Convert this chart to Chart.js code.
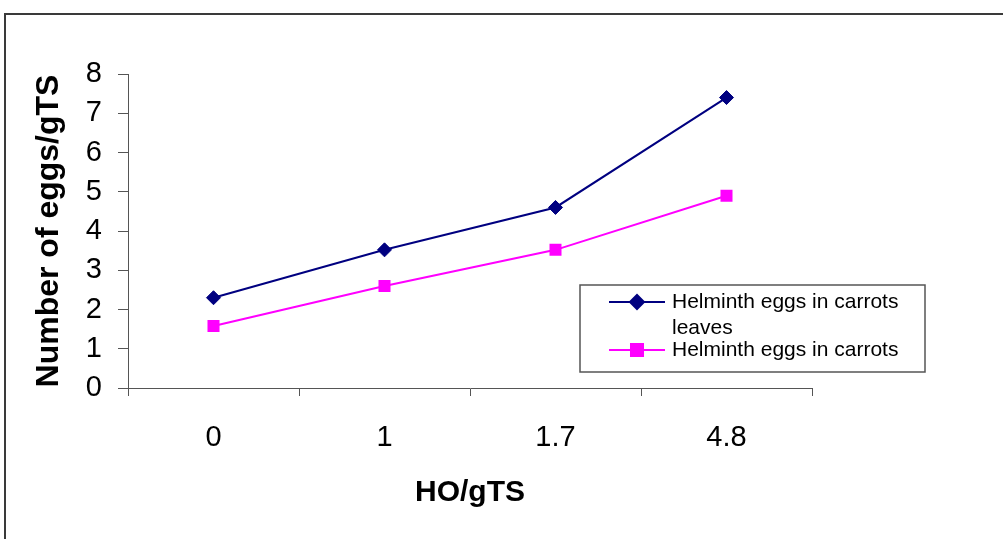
<!DOCTYPE html>
<html>
<head>
<meta charset="utf-8">
<title>Helminth eggs vs HO/gTS</title>
<script src="https://cdn.jsdelivr.net/npm/chart.js@4/dist/chart.umd.min.js"></script>
<style>
  html, body { margin: 0; padding: 0; background: #ffffff; }
  #wrap { width: 1003px; height: 539px; }
</style>
</head>
<body>
<div id="wrap"><canvas id="chart" width="1003" height="539"></canvas></div>
<script>
// HO/gTS dose levels (category axis)
const doseLabels = ['0', '1', '1.7', '4.8'];
// Helminth eggs per gTS
const eggsCarrotLeaves = [2.3, 3.52, 4.6, 7.4];
const eggsCarrots = [1.58, 2.6, 3.52, 4.9];
// Series names
const seriesNames = ['Helminth eggs in carrots leaves', 'Helminth eggs in carrots'];
// Y axis range
const yMin = 0, yMax = 8, yStep = 1;

const FONT = '"Liberation Sans", Arial, Helvetica, sans-serif';

// Thin frame around the whole figure (top and left edges)
const framePlugin = {
  id: 'frame',
  beforeDraw(chart) {
    const ctx = chart.ctx;
    ctx.save();
    ctx.fillStyle = '#ffffff';
    ctx.fillRect(0, 0, chart.width, chart.height);
    ctx.strokeStyle = '#3a3a3a';
    ctx.lineWidth = 2;
    ctx.beginPath();
    ctx.moveTo(5, chart.height);
    ctx.lineTo(5, 14);
    ctx.lineTo(chart.width, 14);
    ctx.stroke();
    ctx.restore();
  }
};

// Boxed legend with wrapped series names
const boxLegendPlugin = {
  id: 'boxLegend',
  afterDraw(chart) {
    const ctx = chart.ctx;
    const box = { x: 580, y: 285, w: 345, h: 87 };
    const lineX0 = 609, lineX1 = 665, textX = 672, maxText = 240, lineH = 24;
    ctx.save();
    ctx.fillStyle = '#ffffff';
    ctx.fillRect(box.x, box.y, box.w, box.h);
    ctx.strokeStyle = '#555555';
    ctx.lineWidth = 1.5;
    ctx.strokeRect(box.x, box.y, box.w, box.h);
    ctx.font = '21px ' + FONT;
    ctx.textBaseline = 'middle';
    ctx.textAlign = 'left';
    let y = box.y + 17;
    chart.data.datasets.forEach((ds) => {
      // line sample
      ctx.strokeStyle = ds.borderColor;
      ctx.lineWidth = ds.borderWidth;
      ctx.beginPath();
      ctx.moveTo(lineX0, y);
      ctx.lineTo(lineX1, y);
      ctx.stroke();
      ctx.fillStyle = ds.pointBackgroundColor;
      ctx.strokeStyle = ds.pointBorderColor;
      Chart.helpers.drawPoint(ctx, {
        pointStyle: ds.pointStyle,
        radius: ds.pointRadius,
        borderWidth: 1,
        rotation: 0
      }, (lineX0 + lineX1) / 2, y);
      // wrapped label
      const words = ds.label.split(' ');
      const lines = [];
      let cur = '';
      words.forEach(w => {
        const test = cur ? cur + ' ' + w : w;
        if (ctx.measureText(test).width > maxText && cur) { lines.push(cur); cur = w; }
        else cur = test;
      });
      if (cur) lines.push(cur);
      ctx.fillStyle = '#000000';
      lines.forEach((ln, k) => ctx.fillText(ln, textX, y + k * (lineH + 2)));
      y += lines.length * lineH;
    });
    ctx.restore();
  }
};

new Chart(document.getElementById('chart'), {
  type: 'line',
  data: {
    labels: doseLabels,
    datasets: [
      {
        label: seriesNames[0],
        data: eggsCarrotLeaves,
        borderColor: '#000080',
        backgroundColor: '#000080',
        borderWidth: 2,
        pointStyle: 'rectRot',
        pointRadius: 7,
        pointHoverRadius: 7,
        pointBackgroundColor: '#000080',
        pointBorderColor: '#000080',
        pointBorderWidth: 1,
        tension: 0,
        fill: false
      },
      {
        label: seriesNames[1],
        data: eggsCarrots,
        borderColor: '#ff00ff',
        backgroundColor: '#ff00ff',
        borderWidth: 2,
        pointStyle: 'rect',
        pointRadius: 8.5,
        pointHoverRadius: 8.5,
        pointBackgroundColor: '#ff00ff',
        pointBorderColor: '#ff00ff',
        pointBorderWidth: 0,
        tension: 0,
        fill: false
      }
    ]
  },
  options: {
    responsive: false,
    animation: false,
    events: [],
    layout: { padding: { left: 0, top: 74, right: 191, bottom: 0 } },
    plugins: {
      legend: { display: false },
      tooltip: { enabled: false },
      title: { display: false }
    },
    scales: {
      x: {
        type: 'category',
        offset: true,
        grid: {
          offset: true,
          drawOnChartArea: false,
          drawTicks: true,
          tickLength: 8,
          color: '#555555'
        },
        border: { display: true, color: '#555555', width: 1 },
        ticks: {
          color: '#000000',
          padding: 25,
          maxRotation: 0,
          font: { family: FONT, size: 29, lineHeight: 1.2 }
        },
        title: {
          display: true,
          text: 'HO/gTS',
          color: '#000000',
          font: { family: FONT, size: 30, weight: 'bold', lineHeight: 1.2 },
          padding: { top: 0, bottom: 28 }
        },
        afterFit(scale) { scale.height = 151; }
      },
      y: {
        min: yMin,
        max: yMax,
        grid: {
          drawOnChartArea: false,
          drawTicks: true,
          tickLength: 10,
          color: '#555555'
        },
        border: { display: true, color: '#555555', width: 1 },
        ticks: {
          stepSize: yStep,
          color: '#000000',
          padding: 16,
          font: { family: FONT, size: 29, lineHeight: 1.2 }
        },
        title: {
          display: true,
          text: 'Number of eggs/gTS',
          color: '#000000',
          font: { family: FONT, size: 32, weight: 'bold', lineHeight: 1.2 },
          padding: { top: 30, bottom: 0 }
        },
        afterFit(scale) { scale.width = 128; }
      }
    }
  },
  plugins: [framePlugin, boxLegendPlugin]
});
</script>
</body>
</html>
